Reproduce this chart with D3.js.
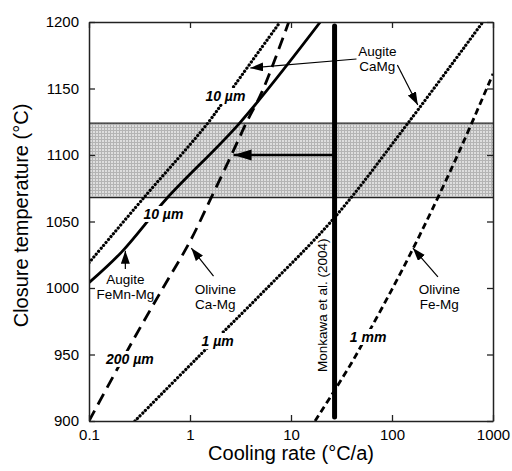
<!DOCTYPE html>
<html>
<head>
<meta charset="utf-8">
<script src="https://cdn.jsdelivr.net/npm/d3@7"></script>
<style>
  body { margin: 0; background: #fff; }
  svg { font-family: "Liberation Sans", Arial, Helvetica, sans-serif; }
</style>
</head>
<body>
<div class="chart"></div>
<script>
// Data (cooling rate in °C/a, closure temperature in °C).
const xTicks = [0.1, 1, 10, 100, 1000];
const yTicks = [900, 950, 1000, 1050, 1100, 1150, 1200];

const augiteCaMg10 = [[0.1, 1019], [0.35, 1068], [1.5, 1124], [2.8, 1153], [7.8, 1200]];
const augiteFeMnMg10 = [[0.1, 1004], [0.21, 1027], [0.6, 1068], [3.1, 1124], [19.5, 1200]];
const olivineCaMg200 = [[0.1, 900], [0.27, 960], [0.54, 1000], [1.0, 1035], [1.6, 1067], [2.5, 1098], [3.6, 1124], [5.2, 1148], [9.5, 1200]];
const augiteCaMg1 = [[0.285, 900], [1.2, 948], [5.3, 997], [27, 1053], [144, 1124], [794, 1200]];
const olivineFeMg1mm = [[17.3, 900], [25, 919], [40, 944], [60, 968], [100, 999], [160, 1029], [250, 1059], [400, 1092], [600, 1122], [1000, 1161]];

const band = [1068, 1124];
const monkawaRate = 27;
const arrowFrom = 27;
const arrowTo = 2.7;
const arrowTemp = 1100;

// Margin convention.
const W = 512, H = 471;
const margin = { top: 22, right: 19, bottom: 50, left: 89 };
const width = W - margin.left - margin.right;
const height = H - margin.top - margin.bottom;

const xScale = d3.scaleLog().domain([0.1, 1000]).range([0, width]);
const yScale = d3.scaleLinear().domain([900, 1200]).range([height, 0]);

const root = d3.select(".chart").append("svg")
  .attr("width", W)
  .attr("height", H);

// Markers.
const defs = root.append("defs");
defs.append("marker")
  .attr("id", "head-small")
  .attr("markerUnits", "userSpaceOnUse")
  .attr("markerWidth", 14).attr("markerHeight", 10)
  .attr("refX", 13).attr("refY", 4.5)
  .attr("orient", "auto")
  .append("path").attr("d", "M0,0 L13,4.5 L0,9 Z").attr("fill", "#000");
defs.append("marker")
  .attr("id", "head-big")
  .attr("markerUnits", "userSpaceOnUse")
  .attr("markerWidth", 20).attr("markerHeight", 12)
  .attr("refX", 18).attr("refY", 5.5)
  .attr("orient", "auto")
  .append("path").attr("d", "M0,0 L18,5.5 L0,11 Z").attr("fill", "#000");

const pat = defs.append("pattern")
  .attr("id", "stipple")
  .attr("patternUnits", "userSpaceOnUse")
  .attr("width", 3).attr("height", 3);
pat.append("rect").attr("width", 3).attr("height", 3).attr("fill", "#dedede");
pat.append("rect").attr("width", 3).attr("height", 1).attr("fill", "#b4b4b4");
pat.append("rect").attr("width", 1).attr("height", 3).attr("fill", "#b4b4b4");

const svg = root.append("g")
  .attr("transform", `translate(${margin.left}, ${margin.top})`);

// Shaded band.
svg.append("rect")
  .attr("x", 0)
  .attr("width", width)
  .attr("y", yScale(band[1]))
  .attr("height", yScale(band[0]) - yScale(band[1]))
  .attr("fill", "url(#stipple)");
band.forEach((t) => {
  svg.append("line")
    .attr("x1", 0).attr("x2", width)
    .attr("y1", yScale(t)).attr("y2", yScale(t))
    .attr("stroke", "#222").attr("stroke-width", 1.2);
});

// Curves.
const line = d3.line()
  .x((d) => xScale(d[0]))
  .y((d) => yScale(d[1]))
  .curve(d3.curveCatmullRom.alpha(0.5));

const clip = defs.append("clipPath").attr("id", "plot-clip");
clip.append("rect").attr("width", width).attr("height", height);

const curves = svg.append("g").attr("clip-path", "url(#plot-clip)");

function drawCurve(data, dash, cap, w) {
  curves.append("path")
    .datum(data)
    .attr("d", line)
    .attr("fill", "none")
    .attr("stroke", "#000")
    .attr("stroke-width", w)
    .attr("stroke-linecap", cap)
    .attr("stroke-dasharray", dash);
}

drawCurve(augiteCaMg10, "0.1 3.7", "round", 3.2);
drawCurve(augiteFeMnMg10, null, "butt", 2.8);
drawCurve(olivineCaMg200, "12 7", "butt", 2.8);
drawCurve(augiteCaMg1, "0.1 3.7", "round", 3.2);
drawCurve(olivineFeMg1mm, "6.5 4", "butt", 2.8);

// Monkawa et al. (2004) line.
svg.append("line")
  .attr("x1", xScale(monkawaRate)).attr("x2", xScale(monkawaRate))
  .attr("y1", yScale(1197)).attr("y2", yScale(903))
  .attr("stroke", "#000")
  .attr("stroke-width", 5)
  .attr("stroke-linecap", "round");

svg.append("line")
  .attr("x1", xScale(arrowFrom)).attr("x2", xScale(arrowTo))
  .attr("y1", yScale(arrowTemp)).attr("y2", yScale(arrowTemp))
  .attr("stroke", "#000")
  .attr("stroke-width", 2.6)
  .attr("marker-end", "url(#head-big)");

svg.append("text")
  .attr("transform", `translate(${xScale(monkawaRate) - 8}, ${yScale(987)}) rotate(-90)`)
  .attr("text-anchor", "middle")
  .style("font-size", "13.5px")
  .text("Monkawa et al. (2004)");

// Axes.
const axes = svg.append("g").attr("class", "axes");
const tick = 6;
axes.append("g")
  .attr("transform", `translate(0, ${height})`)
  .call(d3.axisBottom(xScale).tickValues(xTicks).tickSizeInner(-tick).tickSizeOuter(0).tickPadding(8).tickFormat(d3.format("")));
axes.append("g")
  .call(d3.axisTop(xScale).tickValues(xTicks).tickSizeInner(-tick).tickSizeOuter(0).tickFormat(""));
axes.append("g")
  .call(d3.axisLeft(yScale).tickValues(yTicks).tickSizeInner(-tick).tickSizeOuter(0).tickPadding(10).tickFormat(d3.format("d")));
axes.append("g")
  .attr("transform", `translate(${width}, 0)`)
  .call(d3.axisRight(yScale).tickValues(yTicks).tickSizeInner(-tick).tickSizeOuter(0).tickFormat(""));

axes.selectAll(".domain").attr("stroke", "#222").attr("stroke-width", 1.5);
axes.selectAll(".tick line").attr("stroke", "#222").attr("stroke-width", 1.3);
axes.selectAll(".tick text")
  .attr("fill", "#000")
  .style("font-size", "15px")
  .style("font-family", "'Liberation Sans', Arial, sans-serif");

// Axis titles.
svg.append("text")
  .attr("x", width / 2)
  .attr("y", height + 39)
  .attr("text-anchor", "middle")
  .style("font-size", "20px")
  .text("Cooling rate (°C/a)");

svg.append("text")
  .attr("transform", `translate(${-margin.left + 28}, ${height / 2 - 6}) rotate(-90)`)
  .attr("text-anchor", "middle")
  .style("font-size", "20px")
  .text("Closure temperature (°C)");

// Size labels, with a white knock-out behind them.
const sizeLabels = [
  { text: "10 µm", x: 2.24, y: 1140.6 },
  { text: "10 µm", x: 0.545, y: 1051.9 },
  { text: "200 µm", x: 0.254, y: 942.9 },
  { text: "1 µm", x: 1.88, y: 956.4 },
  { text: "1 mm", x: 58, y: 959.4 },
];
const sizeG = svg.selectAll(".size-label")
  .data(sizeLabels)
  .enter()
  .append("g")
  .attr("class", "size-label");
sizeG.append("text")
  .attr("x", (d) => xScale(d.x))
  .attr("y", (d) => yScale(d.y))
  .attr("text-anchor", "middle")
  .style("font-size", "14px")
  .style("font-weight", "bold")
  .style("font-style", "italic")
  .text((d) => d.text);
sizeG.each(function () {
  const bb = d3.select(this).select("text").node().getBBox();
  d3.select(this).insert("rect", "text")
    .attr("x", bb.x - 2).attr("y", bb.y)
    .attr("width", bb.width + 4).attr("height", bb.height)
    .attr("fill", "#fff");
});

// Mineral labels.
const mineralLabels = [
  { lines: ["Augite", "CaMg"], x: 71.6, y: 1174.4 },
  { lines: ["Augite", "FeMn-Mg"], x: 0.229, y: 1003 },
  { lines: ["Olivine", "Ca-Mg"], x: 1.78, y: 995.5 },
  { lines: ["Olivine", "Fe-Mg"], x: 294, y: 995.5 },
];
mineralLabels.forEach((d) => {
  const t = svg.append("text")
    .attr("x", xScale(d.x))
    .attr("y", yScale(d.y))
    .attr("text-anchor", "middle")
    .style("font-size", "13.5px");
  d.lines.forEach((s, i) => {
    t.append("tspan")
      .attr("x", xScale(d.x))
      .attr("dy", i === 0 ? 0 : "1.12em")
      .text(s);
  });
});

// Label arrows.
const labelArrows = [
  { x1: 44.5, y1: 1172.2, x2: 3.95, y2: 1165.4 },
  { x1: 113, y1: 1167.7, x2: 180, y2: 1137.6 },
  { x1: 0.229, y1: 1014.3, x2: 0.229, y2: 1028 },
  { x1: 1.71, y1: 1009, x2: 1.03, y2: 1030 },
  { x1: 285, y1: 1008.3, x2: 161, y2: 1030 },
];
svg.selectAll(".label-arrow")
  .data(labelArrows)
  .enter()
  .append("line")
  .attr("class", "label-arrow")
  .attr("x1", (d) => xScale(d.x1))
  .attr("y1", (d) => yScale(d.y1))
  .attr("x2", (d) => xScale(d.x2))
  .attr("y2", (d) => yScale(d.y2))
  .attr("stroke", "#000")
  .attr("stroke-width", 1.2)
  .attr("marker-end", "url(#head-small)");
</script>
</body>
</html>
